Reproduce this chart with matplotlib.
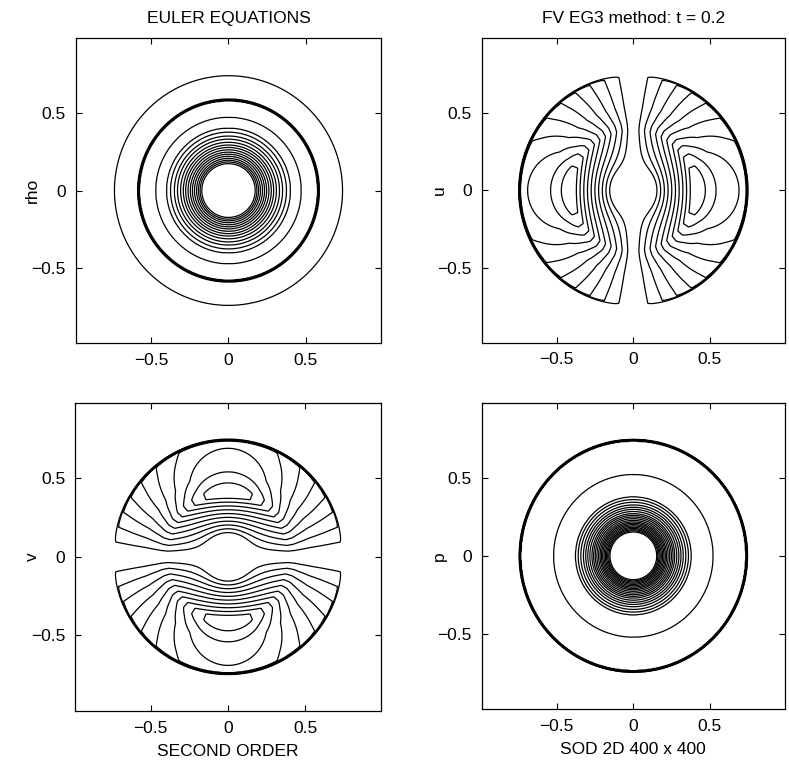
import numpy as np
import matplotlib
matplotlib.use('Agg')
import matplotlib.pyplot as plt

plt.rcParams['font.family'] = ['Liberation Sans', 'DejaVu Sans']

# radial profiles (radius, value)
r_rho = [0.0, 0.14, 0.17, 0.20, 0.25, 0.30, 0.35, 0.40, 0.47, 0.575, 0.59, 0.735, 0.745, 1.5]
rho = [1.0, 1.0, 0.97, 0.86, 0.71, 0.58, 0.48, 0.40, 0.36, 0.33, 0.18, 0.175, 0.125, 0.125]
rho_levels = [0.16, 0.20, 0.24, 0.28, 0.32, 0.36, 0.40, 0.44, 0.48, 0.52, 0.56,
              0.60, 0.64, 0.68, 0.72, 0.76, 0.80, 0.84, 0.88, 0.92, 0.96]

r_p = [0.0, 0.13, 0.15, 0.18, 0.22, 0.27, 0.32, 0.378, 0.52, 0.735, 0.747, 1.5]
p = [1.0, 1.0, 0.98, 0.86, 0.72, 0.58, 0.47, 0.368, 0.34, 0.315, 0.10, 0.10]
p_levels = [0.13, 0.16, 0.19, 0.22, 0.25, 0.28, 0.31, 0.34, 0.37, 0.40, 0.43,
            0.46, 0.49, 0.52, 0.55, 0.58, 0.61, 0.64, 0.67, 0.70, 0.73, 0.76,
            0.79, 0.82, 0.85, 0.88, 0.91, 0.94, 0.97]

# radial velocity, u = ur*x/r and v = ur*y/r
r_ur = [0.0, 0.13, 0.39, 0.43, 0.47, 0.54, 0.69, 0.735, 0.75, 1.5]
ur = [0.0, 0.0, 0.86, 0.86, 0.80, 0.72, 0.64, 0.62, 0.0, 0.0]
vel_levels = [-0.80, -0.72, -0.64, -0.56, -0.48, -0.40, -0.32, -0.24, -0.16, -0.08,
              0.08, 0.16, 0.24, 0.32, 0.40, 0.48, 0.56, 0.64, 0.72, 0.80]

xs = np.linspace(-0.99, 0.99, 397)
X, Y = np.meshgrid(xs, xs)
R = np.hypot(X, Y)
Rs = np.where(R == 0, 1e-9, R)

RHO = np.interp(R, r_rho, rho)
P = np.interp(R, r_p, p)
UR = np.interp(R, r_ur, ur)
U = UR * X / Rs
V = UR * Y / Rs

fig = plt.figure(figsize=(7.89, 7.64), dpi=100)
boxes = [[0.0957, 0.5510, 0.3878, 0.3992],
         [0.6105, 0.5514, 0.3844, 0.3988],
         [0.0951, 0.0694, 0.3878, 0.4035],
         [0.6105, 0.0720, 0.3844, 0.4009]]
fields = [(RHO, rho_levels, 'rho'), (U, vel_levels, 'u'),
          (V, vel_levels, 'v'), (P, p_levels, 'p')]

axes = []
for box, (Z, lev, name) in zip(boxes, fields):
    ax = fig.add_axes(box)
    ax.contour(X, Y, Z, levels=lev, colors='k', linewidths=0.9,
               negative_linestyles='solid')
    ax.set_xlim(-0.99, 0.99)
    ax.set_ylim(-0.98, 0.98)
    ax.set_xticks([-0.5, 0, 0.5])
    ax.set_yticks([-0.5, 0, 0.5])
    ax.set_xticklabels(['\u22120.5', '0', '0.5'])
    ax.set_yticklabels(['\u22120.5', '0', '0.5'])
    ax.tick_params(direction='in', top=True, right=True, length=4,
                   labelsize=12.5, pad=7)
    ax.set_ylabel(name, fontsize=12.5)
    ax.yaxis.set_label_coords(-0.115, 0.5)
    for s in ax.spines.values():
        s.set_linewidth(0.9)
    axes.append(ax)

axes[0].set_title('EULER EQUATIONS', fontsize=12.5, pad=11)
axes[1].set_title('FV EG3 method: t = 0.2', fontsize=12.5, pad=11)
axes[2].set_xlabel('SECOND ORDER', fontsize=12.5, labelpad=6)
axes[3].set_xlabel('SOD 2D 400 x 400', fontsize=12.5, labelpad=6)

plt.savefig('out.png', dpi=100)
